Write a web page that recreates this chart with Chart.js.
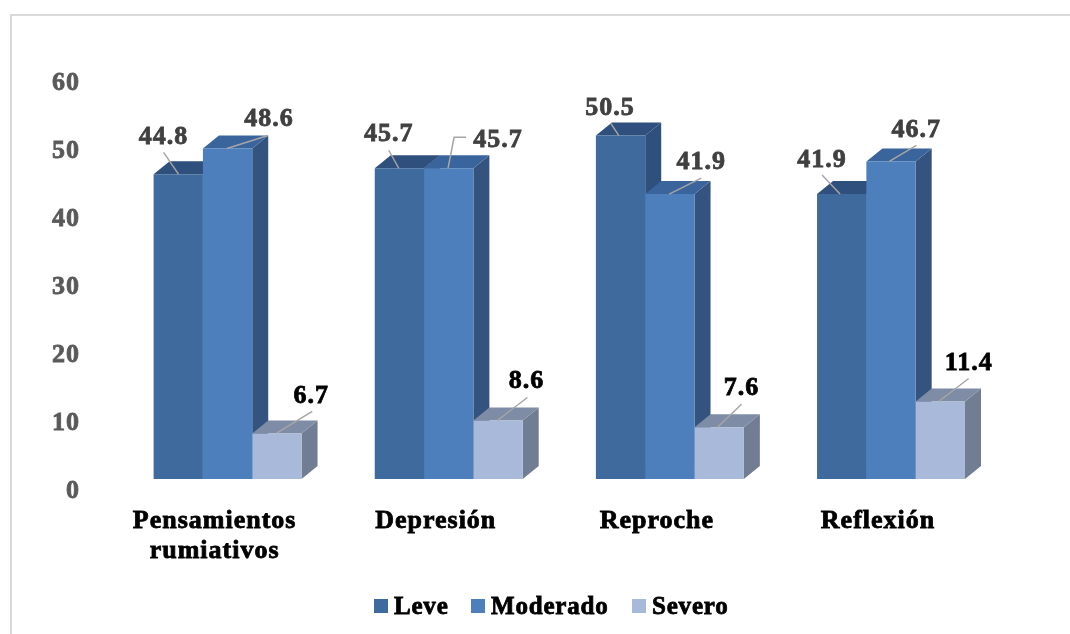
<!DOCTYPE html>
<html>
<head>
<meta charset="utf-8">
<style>
  html, body { margin: 0; padding: 0; background: #fff; overflow: hidden; }
  #wrap { width: 1070px; height: 634px; }
</style>
<script src="https://cdn.jsdelivr.net/npm/chart.js@4"></script>
</head>
<body>
<div id="wrap"><canvas id="grafico"></canvas></div>
<script>
const categorias = [['Pensamientos', 'rumiativos'], 'Depresión', 'Reproche', 'Reflexión'];
const leve = [44.8, 45.7, 50.5, 41.9];
const moderado = [48.6, 45.7, 41.9, 46.7];
const severo = [6.7, 8.6, 7.6, 11.4];

const fonte = '"Liberation Serif"';
const profundidade = { x: 16, y: 13 };

// cores: frente, topo, lado
const cores = {
    Leve: ['#3f6a9e', '#2f4f7c', '#2f4f7c'],
    Moderado: ['#4d7fbd', '#39659c', '#34547f'],
    Severo: ['#a9b9d9', '#7f8ca6', '#717d93']
};

// rotulos: centro do texto e linha guia, relativos ao canto superior esquerdo da barra
const rotulosLeve = [
    { t: [10, -37], l: [[10, -22], [25, 0]] },
    { t: [14, -34], l: [[14, -18], [24, 0]] },
    { t: [14, -27], l: [[15, -12], [23, 0]] },
    { t: [5, -34], l: [[5, -19], [23, 0]] }
];
const rotulosModerado = [
    { t: [66, -29], l: [[24, 0], [65, -13]] },
    { t: [74, -28], l: [[24, 0], [30, -31], [42, -31]] },
    { t: [56, -32], l: [[24, 0], [56, -16]] },
    { t: [50, -31], l: [[23, 0], [50, -16]] }
];
const rotulosSevero = [
    { t: [59, -37], l: [[24, 0], [60, -22]] },
    { t: [53, -39], l: [[24, 0], [54, -23]] },
    { t: [47, -39], l: [[23, 0], [47, -23]] },
    { t: [53, -38], l: [[23, 0], [53, -23]] }
];

const caras3d = {
    id: 'caras3d',
    beforeDatasetsDraw(chart) {
        const ctx = chart.ctx;
        const dx = profundidade.x, dy = profundidade.y;
        chart.getSortedVisibleDatasetMetas().forEach(meta => {
            const c = cores[chart.data.datasets[meta.index].label];
            meta.data.forEach(barra => {
                const esq = barra.x - barra.width / 2;
                const dir = barra.x + barra.width / 2;
                // lado
                ctx.fillStyle = c[2];
                ctx.beginPath();
                ctx.moveTo(dir, barra.y);
                ctx.lineTo(dir + dx, barra.y - dy);
                ctx.lineTo(dir + dx, barra.base - dy);
                ctx.lineTo(dir, barra.base);
                ctx.closePath();
                ctx.fill();
                // topo
                ctx.fillStyle = c[1];
                ctx.beginPath();
                ctx.moveTo(esq, barra.y);
                ctx.lineTo(esq + dx, barra.y - dy);
                ctx.lineTo(dir + dx, barra.y - dy);
                ctx.lineTo(dir, barra.y);
                ctx.closePath();
                ctx.fill();
            });
        });
    }
};

const rotulos = {
    id: 'rotulos',
    afterDatasetsDraw(chart) {
        const ctx = chart.ctx;
        const grupos = [rotulosLeve, rotulosModerado, rotulosSevero];
        const coresTexto = ['#404040', '#404040', '#000000'];
        chart.getSortedVisibleDatasetMetas().forEach(meta => {
            const valores = chart.data.datasets[meta.index].data;
            meta.data.forEach((barra, i) => {
                const r = grupos[meta.index][i];
                const x0 = barra.x - barra.width / 2;
                const y0 = barra.y;
                ctx.save();
                ctx.strokeStyle = '#a6a6a6';
                ctx.lineWidth = 1.5;
                ctx.beginPath();
                r.l.forEach((p, k) => {
                    if (k === 0) ctx.moveTo(x0 + p[0], y0 + p[1]);
                    else ctx.lineTo(x0 + p[0], y0 + p[1]);
                });
                ctx.stroke();
                ctx.font = 'bold 26px ' + fonte;
                ctx.fillStyle = coresTexto[meta.index];
                ctx.strokeStyle = coresTexto[meta.index];
                ctx.lineWidth = 0.8;
                ctx.textAlign = 'center';
                ctx.textBaseline = 'middle';
                const txt = valores[i].toFixed(1);
                ctx.fillText(txt, x0 + r.t[0], y0 + r.t[1]);
                ctx.strokeText(txt, x0 + r.t[0], y0 + r.t[1]);
                ctx.restore();
            });
        });
    }
};

const moldura = {
    id: 'moldura',
    beforeDraw(chart) {
        const ctx = chart.ctx;
        // Cambria e mais largo que a Liberation Serif
        ctx.letterSpacing = '1px';
        ctx.save();
        ctx.strokeStyle = '#d9d9d9';
        ctx.lineWidth = 2;
        ctx.beginPath();
        ctx.moveTo(11, 634);
        ctx.lineTo(11, 15);
        ctx.lineTo(1070, 15);
        ctx.stroke();
        ctx.restore();
    }
};

const legendaPropria = {
    id: 'legendaPropria',
    afterDraw(chart) {
        const ctx = chart.ctx;
        const posicoes = [374, 471, 632];
        ctx.save();
        ctx.letterSpacing = '0.8px';
        ctx.font = 'bold 25px ' + fonte;
        ctx.textBaseline = 'middle';
        ctx.textAlign = 'left';
        ctx.lineWidth = 0.8;
        chart.data.datasets.forEach((ds, i) => {
            ctx.fillStyle = ds.backgroundColor;
            ctx.fillRect(posicoes[i], 599, 14, 14);
            ctx.fillStyle = '#000000';
            ctx.strokeStyle = '#000000';
            ctx.fillText(ds.label, posicoes[i] + 20, 608);
            ctx.strokeText(ds.label, posicoes[i] + 20, 608);
        });
        ctx.restore();
    }
};

new Chart(document.getElementById('grafico'), {
    type: 'bar',
    data: {
        labels: categorias,
        datasets: [
            { label: 'Leve', data: leve, backgroundColor: cores.Leve[0] },
            { label: 'Moderado', data: moderado, backgroundColor: cores.Moderado[0] },
            { label: 'Severo', data: severo, backgroundColor: cores.Severo[0] }
        ]
    },
    options: {
        responsive: true,
        maintainAspectRatio: false,
        animation: false,
        devicePixelRatio: 1,
        layout: { padding: { left: 0, right: 68.4, top: 71, bottom: 0 } },
        categoryPercentage: 0.669,
        barPercentage: 1,
        plugins: {
            legend: { display: false },
            tooltip: { enabled: false },
            title: { display: false }
        },
        scales: {
            x: {
                grid: { display: false },
                border: { display: false },
                afterFit(scale) { scale.height = 155; },
                ticks: {
                    color: '#000000',
                    textStrokeColor: '#000000',
                    textStrokeWidth: 0.8,
                    font: { family: fonte, size: 26, weight: 'bold', lineHeight: 1.15 },
                    maxRotation: 0,
                    autoSkip: false,
                    labelOffset: -13,
                    padding: 19
                }
            },
            y: {
                min: 0,
                max: 60,
                grid: { display: false },
                border: { display: false },
                afterFit(scale) { scale.width = 117; },
                ticks: {
                    stepSize: 10,
                    color: '#595959',
                    textStrokeColor: '#595959',
                    textStrokeWidth: 0.8,
                    font: { family: fonte, size: 26, weight: 'bold' },
                    padding: 29,
                    labelOffset: 12
                }
            }
        }
    },
    plugins: [moldura, caras3d, rotulos, legendaPropria]
});
</script>
</body>
</html>
